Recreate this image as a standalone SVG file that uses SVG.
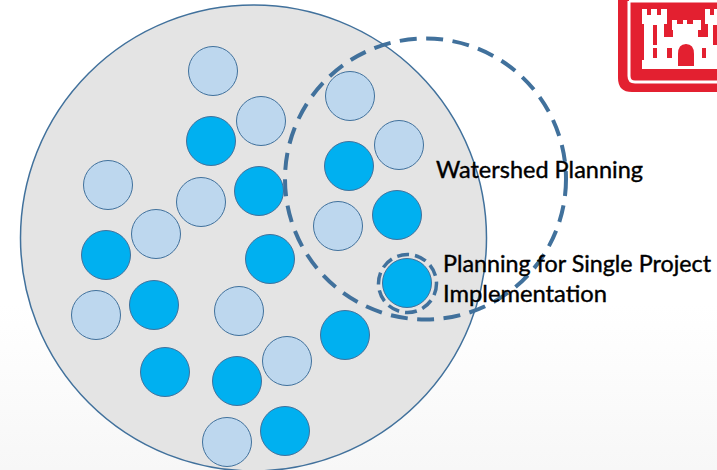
<svg xmlns="http://www.w3.org/2000/svg" width="717" height="470" viewBox="0 0 717 470">
<defs>
<style>
.n{stroke:#41719c;stroke-width:1}
.l{fill:#bdd7ee}
.d{fill:#00b0f0}
.t{font-family:"Lato","Noto Sans",sans-serif;font-size:23.500px;fill:#000;stroke:#000;stroke-width:0.400}
.r{fill:none;stroke:#41719c}
</style>
<linearGradient id="bg" x1="0" y1="0" x2="0" y2="1"><stop offset="0.65" stop-color="#fff"/><stop offset="1" stop-color="#f7f7f7"/></linearGradient>
</defs>
<rect width="717" height="470" fill="url(#bg)"/>
<g id="logo">
<path d="M618 0H717V92H632Q618 92 618 78V0Z" fill="#e32030"/>
<path d="M629 1H717M629 1V76Q629 82 635 82H717" fill="none" stroke="#fff" stroke-width="3"/>
<path d="M642 9H647V15H651V9H657V15H661V9H667V24H664V37H673V30H672V20H677V24H683V20H687V24H693V20H701V30H698V37H708V24H705V9H710V15H714V9H717V69H642V60H644V24H642Z" fill="#fff"/>
<path d="M678 66V54Q678 44 686 44Q694 44 694 54V66ZM653 25H657V45H653ZM653 48H657V58H653ZM667 48H672V58H667ZM702 48H706V58H702ZM713 25H717V45H713Z" fill="#e32030"/>
</g>
<g id="outer"><circle cx="253.500" cy="238" r="233" fill="#e4e4e4" stroke="#41719c" stroke-width="1.500"/></g>
<g id="nodes">
<circle id="n1" class="n l" cx="213" cy="71" r="24.500"/>
<circle id="n2" class="n l" cx="261" cy="121" r="24.500"/>
<circle id="n3" class="n d" cx="211" cy="141" r="24.500"/>
<circle id="n4" class="n l" cx="350" cy="96" r="24.500"/>
<circle id="n5" class="n l" cx="399" cy="145" r="24.500"/>
<circle id="n6" class="n d" cx="349" cy="166" r="24.500"/>
<circle id="n7" class="n l" cx="108" cy="185" r="24.500"/>
<circle id="n8" class="n l" cx="201" cy="202" r="24.500"/>
<circle id="n9" class="n d" cx="259" cy="191" r="24.500"/>
<circle id="n10" class="n d" cx="397" cy="215" r="24.500"/>
<circle id="n11" class="n l" cx="338" cy="226" r="24.500"/>
<circle id="n12" class="n l" cx="156" cy="234" r="24.500"/>
<circle id="n13" class="n d" cx="106" cy="255" r="24.500"/>
<circle id="n14" class="n d" cx="270" cy="259" r="24.500"/>
<circle id="n15" class="n d" cx="407" cy="283" r="24.500"/>
<circle id="n16" class="n l" cx="96" cy="315" r="24.500"/>
<circle id="n17" class="n d" cx="154" cy="305" r="24.500"/>
<circle id="n18" class="n l" cx="239" cy="311" r="24.500"/>
<circle id="n19" class="n d" cx="345" cy="335" r="24.500"/>
<circle id="n20" class="n l" cx="287" cy="361" r="24.500"/>
<circle id="n21" class="n d" cx="165" cy="372" r="24.500"/>
<circle id="n22" class="n d" cx="237" cy="381" r="24.500"/>
<circle id="n23" class="n d" cx="285" cy="431" r="24.500"/>
<circle id="n24" class="n l" cx="227" cy="442" r="24.500"/>
</g>
<g id="connectors">
<circle id="watershed" class="r" cx="425.500" cy="179" r="140.500" stroke-width="4" stroke-dasharray="17 9.500"/>
<circle id="single" class="r" cx="407.500" cy="283.500" r="29" stroke-width="3.500" stroke-dasharray="12 6"/>
</g>
<g id="labels">
<text class="t" x="436" y="178" textLength="207" lengthAdjust="spacingAndGlyphs">Watershed Planning</text>
<text class="t" x="443" y="272" textLength="268" lengthAdjust="spacingAndGlyphs">Planning for Single Project</text>
<text class="t" x="443" y="302" textLength="164" lengthAdjust="spacingAndGlyphs">Implementation</text>
</g>
</svg>
